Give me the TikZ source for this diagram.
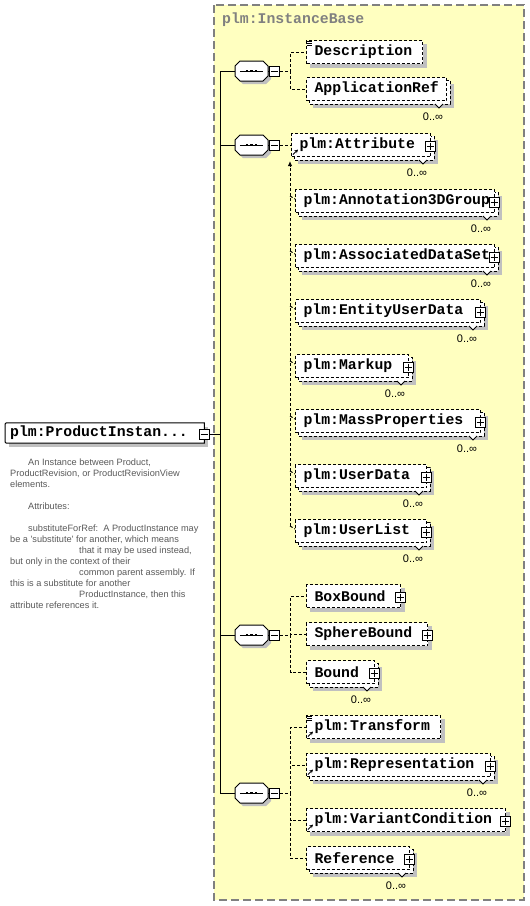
\documentclass[tikz,border=0pt]{standalone}
\usepackage{fontspec}
\usetikzlibrary{arrows.meta,calc}
\newfontfamily\monofnt{Liberation Mono}
\newfontfamily\sansfnt{Liberation Sans}
\definecolor{panelc}{RGB}{255,255,192}
\definecolor{shadc}{RGB}{192,192,192}
\definecolor{greyc}{RGB}{128,128,128}
\definecolor{doctxt}{RGB}{90,90,90}
\pgfdeclarelayer{panel}
\pgfdeclarelayer{shadow}
\pgfdeclarelayer{back}
\pgfsetlayers{panel,shadow,back,main}
\tikzset{
  dashbox/.style={draw=black, line width=1pt, dash pattern=on 3pt off 2pt},
  elem/.style={dashbox, fill=white, anchor=west, font={\monofnt\bfseries\fontsize{14.8pt}{16pt}\selectfont}, minimum height=23pt, inner xsep=8pt, inner ysep=0pt, align=left},
  conn/.style={line width=1pt, dash pattern=on 3pt off 2pt},
  solidln/.style={line width=1pt},
  occ/.style={font={\sansfnt\fontsize{11pt}{12pt}\selectfont}, inner sep=0pt},
  pm/.style={draw, fill=white, line width=1pt, minimum size=10pt, inner sep=0pt},
  seqs/.style={rectangle, minimum width=33pt, minimum height=20pt, inner sep=0pt},
}
\newcommand\shd[2]{\begin{pgfonlayer}{shadow}\fill[shadc] ([shift={(#2,#2)}]#1.north west) rectangle ([shift={(#2,#2)}]#1.south east);\end{pgfonlayer}}
\newcommand\elt[5]{\node[elem, text width=#4pt] (#1) at (#2,#3) {\mbox{#5}};\shd{#1}{4}}
\newcommand\multi[1]{\begin{pgfonlayer}{back}\draw[dashbox, fill=white] ([shift={(3,3)}]#1.north west) rectangle ([shift={(3,3)}]#1.south east);
  \filldraw[fill=white, line width=0.8pt] ([shift={(-12,3)}]#1.south east) -- ++(4,4) -- ++(4,-4);\end{pgfonlayer}
  \shd{#1}{7}
  \node[occ] (#1occ) at ([shift={(-14,16)}]#1.south east) {0..∞};}
\newcommand\plusb[1]{\node[pm] (#1p) at ([shift={(-1,1)}]#1.east) {};
  \draw[line width=1pt] ([xshift=2pt]#1p.west) -- ([xshift=-2pt]#1p.east) ([yshift=-2pt]#1p.north) -- ([yshift=2pt]#1p.south);}
\newcommand\refar[1]{\draw[line width=0.9pt, -{Stealth[length=3.5pt,width=3.5pt]}] ([shift={(2,-2.5)}]#1.south west) -- ++(5,-5);}
\newcommand\simp[1]{\foreach \k in {1.5,3.5,5.5}{\draw[line width=0.8pt] ([shift={(1,\k)}]#1.north west) -- ++(5,0);}}
\newcommand\octo[2]{([shift={(-16.5+#2,-5+#2)}]#1.center) -- ([shift={(-11.5+#2,-10+#2)}]#1.center) -- ([shift={(11.5+#2,-10+#2)}]#1.center) -- ([shift={(16.5+#2,-5+#2)}]#1.center) -- ([shift={(16.5+#2,5+#2)}]#1.center) -- ([shift={(11.5+#2,10+#2)}]#1.center) -- ([shift={(-11.5+#2,10+#2)}]#1.center) -- ([shift={(-16.5+#2,5+#2)}]#1.center) -- cycle}
\newcommand\seqsym[3]{%
  \node[seqs] (#1) at (#2,#3) {};
  \begin{pgfonlayer}{shadow}\fill[shadc] \octo{#1}{3};\end{pgfonlayer}
  \begin{pgfonlayer}{back}\draw[fill=white, line width=1pt] \octo{#1}{0};\end{pgfonlayer}
  \draw[line width=1pt] ([xshift=5pt]#1.west) -- ([xshift=-5pt]#1.east);
  \foreach \dx in {-4.5,0,4.5}{\fill ([shift={(\dx-1.4,-1.4)}]#1.center) rectangle ++(2.8,2.8);}
  \node[pm] (#1m) at (#2+23,#3) {};
  \draw[line width=1pt] ([xshift=2pt]#1m.west) -- ([xshift=-2pt]#1m.east);
  \draw[solidln] (#1.east) -- (#1m.west);}
\begin{document}
\begin{tikzpicture}[x=1pt,y=-1pt]
\useasboundingbox (0,0) rectangle (530,906);
\begin{pgfonlayer}{panel}
\fill[white] (0,0) rectangle (530,906);
\fill[panelc] (214,5) rectangle (524,900);
\draw[greyc, line width=1.2pt, dash pattern=on 8pt off 4pt] (214,5) rectangle (524,900);
\end{pgfonlayer}
\node[anchor=west, inner sep=0pt, text=greyc, font={\monofnt\bfseries\fontsize{14.8pt}{16pt}\selectfont}] (title) at (222,20) {plm:InstanceBase};

% root element
\node[anchor=west, font={\monofnt\bfseries\fontsize{14.8pt}{16pt}\selectfont}, text width=189pt, inner xsep=5pt, inner ysep=0pt, minimum height=20pt, align=left] (root) at (5,433) {\mbox{plm:ProductInstan...}};
\begin{pgfonlayer}{back}
\draw[fill=white, line width=1pt] (root.north east) -- ([xshift=4pt]root.north west) .. controls (root.north west) .. ([yshift=-4pt]root.north west) -- ([yshift=4pt]root.south west) .. controls (root.south west) .. ([xshift=4pt]root.south west) -- (root.south east) -- cycle;
\end{pgfonlayer}
\shd{root}{4}
\node[pm] (rootm) at (204,434) {};
\draw[line width=1pt] ([xshift=2pt]rootm.west) -- ([xshift=-2pt]rootm.east);

\node[anchor=north west, align=left, inner sep=0pt, text=doctxt, font={\sansfnt\fontsize{9.2pt}{11pt}\selectfont}] (doc) at (10,458.5) {%
\hspace*{18pt}An Instance between Product,\\
ProductRevision, or ProductRevisionView\\
elements.\\[11pt]
\hspace*{18pt}Attributes:\\[11pt]
\hspace*{18pt}substituteForRef:\ \ A ProductInstance may\\
be a \textquotesingle substitute\textquotesingle\ for another, which means\\
\hspace*{69pt}that it may be used instead,\\
but only in the context of their\\
\hspace*{69pt}common parent assembly. If\\
this is a substitute for another\\
\hspace*{69pt}ProductInstance, then this\\
attribute references it.};

% spine and sequences
\coordinate (spT) at (220,71);
\coordinate (spB) at (220,793);
\seqsym{qa}{251.5}{71}
\seqsym{qb}{251.5}{145}
\seqsym{qc}{251.5}{635}
\seqsym{qd}{251.5}{793}

% sequence 1
\elt{desc}{306}{52}{100}{Description}\simp{desc}
\elt{appref}{306}{89}{124}{ApplicationRef}\multi{appref}

% sequence 2
\elt{attr}{291}{145}{123}{plm:Attribute}\multi{attr}\plusb{attr}\refar{attr}
\elt{ann}{295}{201}{183}{plm:Annotation3DGroup}\multi{ann}\plusb{ann}
\elt{ads}{295}{256}{183}{plm:AssociatedDataSet}\multi{ads}\plusb{ads}
\elt{eud}{295}{311}{169}{plm:EntityUserData}\multi{eud}\plusb{eud}
\elt{mark}{295}{366}{97}{plm:Markup}\multi{mark}\plusb{mark}
\elt{mass}{295}{421}{169}{plm:MassProperties}\multi{mass}\plusb{mass}
\elt{ud}{295}{476}{115}{plm:UserData}\multi{ud}\plusb{ud}
\elt{ul}{295}{531}{115}{plm:UserList}\multi{ul}\plusb{ul}

% sequence 3
\elt{bb}{306}{596}{78}{BoxBound}\plusb{bb}
\elt{sph}{306}{634}{105}{SphereBound}\plusb{sph}
\elt{bnd}{306}{672}{52}{Bound}\multi{bnd}\plusb{bnd}

% sequence 4
\elt{tr}{306}{727}{118}{plm:Transform}\simp{tr}\refar{tr}
\elt{rep}{306}{765}{168}{plm:Representation}\multi{rep}\plusb{rep}\refar{rep}
\elt{vc}{306}{820}{183}{plm:VariantCondition}\plusb{vc}\refar{vc}
\elt{refn}{306}{858}{87}{Reference}\multi{refn}\plusb{refn}

% connectors
\draw[solidln] (spT) -- (spB);
\draw[solidln] (rootm.east) -- (rootm.east -| spT);
\foreach \q in {qa,qb,qc,qd}{\draw[solidln] (\q.west) -- (\q.west -| spT);}
\foreach \n in {desc,appref}{\draw[conn] (qam.east) -- ++(10.5,0) |- (\n.west);}
\draw[conn] (qbm.east) -- (attr.west);
\coordinate (sgtop) at (290,161);
\draw[conn, -{Latex[length=5pt,width=4.5pt]}] ([shift={(-5,-5)}]ul.west) -- (sgtop);
\foreach \n in {ann,ads,eud,mark,mass,ud,ul}{\draw[conn] ([shift={(-5,-5)}]\n.west) -- ([shift={(0,-2)}]\n.west);}
\foreach \n in {bb,sph,bnd}{\draw[conn] (qcm.east) -- ++(10.5,0) |- (\n.west);}
\foreach \n in {tr,rep,vc,refn}{\draw[conn] (qdm.east) -- ++(10.5,0) |- (\n.west);}
\end{tikzpicture}
\end{document}
